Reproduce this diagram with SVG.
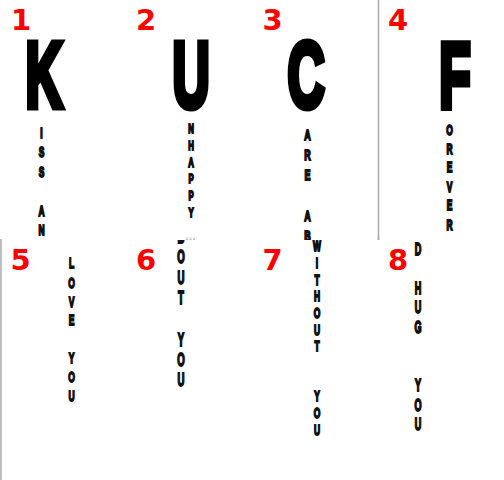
<svg xmlns="http://www.w3.org/2000/svg" width="504" height="480" viewBox="0 0 504 480">
<defs>
<style>
.num{font-family:"DejaVu Sans",sans-serif;font-weight:bold;font-size:29px;fill:#ff0000;text-anchor:middle}
.big{font-family:"Liberation Sans",Arial,sans-serif;font-weight:bold;font-size:92px;fill:#000;stroke:#000;stroke-width:7;stroke-linejoin:miter;text-anchor:middle}
.sm{font-family:"Liberation Sans",Arial,sans-serif;font-weight:bold;fill:#111;stroke:#111;stroke-width:1.8;stroke-linejoin:miter;text-anchor:middle}
.sep{stroke:#aaaaaa;stroke-width:1.5}
.faint{stroke:#bbbbbb;stroke-width:1.2;stroke-dasharray:2 1.5}
</style>
<clipPath id="topClip"><rect x="0" y="0" width="504" height="240"/></clipPath>
<clipPath id="botClip"><rect x="0" y="240" width="504" height="240"/></clipPath>
</defs>
<rect x="0" y="0" width="504" height="480" fill="#ffffff"/>

<g id="separators">
<line class="sep" x1="378.5" y1="0" x2="378.5" y2="240"/>
<line class="sep" x1="1" y1="239" x2="1" y2="480"/>
</g>

<g id="panel1">
<text class="num" x="21" y="30">1</text>
<text class="big" transform="translate(44,106.5) scale(0.56,1)" x="0" y="0">K</text>
<text class="sm" font-size="14.5" transform="translate(41.5,0) scale(0.58,1)"><tspan x="0" y="138">I</tspan><tspan x="0" y="157.5">S</tspan><tspan x="0" y="177">S</tspan><tspan x="0" y="216.5">A</tspan><tspan x="0" y="235">N</tspan></text>
</g>

<g id="panel2">
<text class="num" x="146" y="30">2</text>
<text class="big" transform="translate(191,106.5) scale(0.56,1)" x="0" y="0">U</text>
<text class="sm" font-size="13" transform="translate(191,0) scale(0.6,1)"><tspan x="0" y="133.3">N</tspan><tspan x="0" y="150">H</tspan><tspan x="0" y="167">A</tspan><tspan x="0" y="183.5">P</tspan><tspan x="0" y="200.5">P</tspan><tspan x="0" y="216.7">Y</tspan></text>
<line class="faint" x1="186" y1="238" x2="197" y2="238"/>
</g>

<g id="panel3">
<text class="num" x="272.5" y="30">3</text>
<text class="big" transform="translate(306,106.5) scale(0.56,1)" x="0" y="0">C</text>
<g clip-path="url(#topClip)">
<text class="sm" font-size="15.5" transform="translate(307.5,0) scale(0.58,1)"><tspan x="0" y="140">A</tspan><tspan x="0" y="160">R</tspan><tspan x="0" y="180">E</tspan><tspan x="0" y="221.5">A</tspan><tspan x="0" y="241.5">B</tspan></text>
</g>
</g>

<g id="panel4">
<text class="num" x="398" y="30">4</text>
<text class="big" transform="translate(455,106.5) scale(0.56,1)" x="0" y="0">F</text>
<text class="sm" font-size="14" transform="translate(449.5,0) scale(0.6,1)"><tspan x="0" y="135">O</tspan><tspan x="0" y="154">R</tspan><tspan x="0" y="172">E</tspan><tspan x="0" y="192">V</tspan><tspan x="0" y="210">E</tspan><tspan x="0" y="230">R</tspan></text>
</g>

<g id="panel5">
<text class="num" x="20.5" y="270">5</text>
<text class="sm" font-size="15.5" transform="translate(71.5,0) scale(0.55,1)"><tspan x="0" y="268">L</tspan><tspan x="0" y="288.5">O</tspan><tspan x="0" y="307">V</tspan><tspan x="0" y="325.5">E</tspan><tspan x="0" y="363">Y</tspan><tspan x="0" y="382">O</tspan><tspan x="0" y="401">U</tspan></text>
</g>

<g id="panel6">
<text class="num" x="146" y="270">6</text>
<g clip-path="url(#botClip)">
<text class="sm" font-size="17.5" transform="translate(181,0) scale(0.55,1)"><tspan x="0" y="243">B</tspan><tspan x="0" y="263.5">O</tspan><tspan x="0" y="284">U</tspan><tspan x="0" y="304">T</tspan><tspan x="0" y="346">Y</tspan><tspan x="0" y="366">O</tspan><tspan x="0" y="386">U</tspan></text>
</g>
<line class="faint" x1="186" y1="239.5" x2="196" y2="239.5"/>
</g>

<g id="panel7">
<text class="num" x="272.5" y="270">7</text>
<text class="sm" font-size="14.5" transform="translate(317,0) scale(0.58,1)"><tspan x="0" y="251">W</tspan><tspan x="0" y="268">I</tspan><tspan x="0" y="285">T</tspan><tspan x="0" y="301.5">H</tspan><tspan x="0" y="318">O</tspan><tspan x="0" y="335">U</tspan><tspan x="0" y="351.5">T</tspan><tspan x="0" y="401.5">Y</tspan><tspan x="0" y="418">O</tspan><tspan x="0" y="435">U</tspan></text>
<line class="sep" x1="378.5" y1="236" x2="378.5" y2="240"/>
</g>

<g id="panel8">
<text class="num" x="398" y="270">8</text>
<text class="sm" font-size="16.5" transform="translate(418,0) scale(0.55,1)"><tspan x="0" y="255">D</tspan><tspan x="0" y="294">H</tspan><tspan x="0" y="313.5">U</tspan><tspan x="0" y="333.5">G</tspan><tspan x="0" y="391.5">Y</tspan><tspan x="0" y="411">O</tspan><tspan x="0" y="430">U</tspan></text>
</g>
</svg>
